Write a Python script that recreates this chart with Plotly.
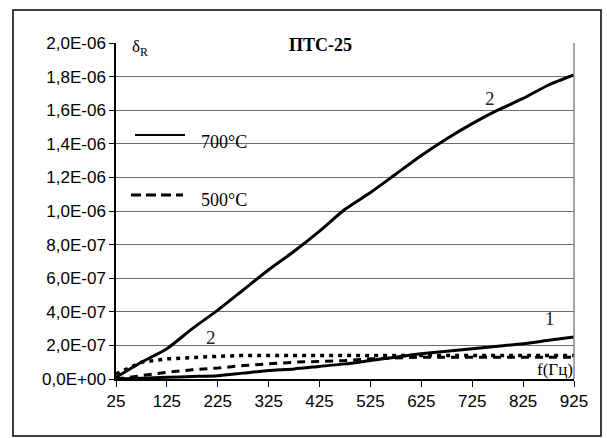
import plotly.graph_objects as go

freq = [25, 75, 125, 175, 225, 275, 325, 375, 425, 475, 525, 575, 625, 675, 725, 775, 825, 875, 925]

# 700°C, curve 2 (upper solid)
s700_2 = [0.01, 0.10, 0.18, 0.30, 0.41, 0.53, 0.65, 0.76, 0.88, 1.01, 1.11, 1.22, 1.33, 1.43, 1.52, 1.60, 1.67, 1.75, 1.81]
# 700°C, curve 1 (lower solid)
s700_1 = [0.00, 0.005, 0.01, 0.015, 0.02, 0.035, 0.05, 0.06, 0.075, 0.09, 0.11, 0.13, 0.15, 0.165, 0.18, 0.195, 0.21, 0.23, 0.25]
# 500°C, curve 2 (upper dashed)
s500_2 = [0.03, 0.10, 0.12, 0.13, 0.135, 0.14, 0.14, 0.14, 0.14, 0.14, 0.14, 0.14, 0.14, 0.14, 0.14, 0.14, 0.14, 0.14, 0.14]
# 500°C, curve 1 (lower dashed)
s500_1 = [0.00, 0.02, 0.04, 0.055, 0.065, 0.08, 0.09, 0.10, 0.105, 0.11, 0.12, 0.125, 0.13, 0.13, 0.13, 0.13, 0.13, 0.13, 0.13]

scale = 1e-6
x_ticks = [25, 125, 225, 325, 425, 525, 625, 725, 825, 925]
y_ticks = [0.0, 0.2, 0.4, 0.6, 0.8, 1.0, 1.2, 1.4, 1.6, 1.8, 2.0]
y_tick_text = ["0,0E+00", "2,0E-07", "4,0E-07", "6,0E-07", "8,0E-07", "1,0E-06",
               "1,2E-06", "1,4E-06", "1,6E-06", "1,8E-06", "2,0E-06"]

# curve number labels: (freq, value, text)
label_x = [760, 878, 212, 155]
label_y = [1.67, 0.36, 0.245, -0.08]
label_t = ["2", "1", "2", "1"]

title_text = "ПТС-25"
y_title = "δ<sub>R</sub>"
x_title = "f(Гц)"
legend_names = ["700°C", "500°C"]

serif = "Liberation Serif, Times New Roman, serif"
sans = "Liberation Sans, Arial, sans-serif"

fig = go.Figure()
fig.add_trace(go.Scatter(x=freq, y=[v * scale for v in s500_2], mode="lines",
                         line=dict(color="black", width=3.5, dash="4px,5px"), showlegend=False))
fig.add_trace(go.Scatter(x=freq, y=[v * scale for v in s500_1], mode="lines",
                         line=dict(color="black", width=3, dash="8px,6px"), showlegend=False))
fig.add_trace(go.Scatter(x=freq, y=[v * scale for v in s700_2], mode="lines",
                         line=dict(color="black", width=3, shape="spline", smoothing=0.6), showlegend=False))
fig.add_trace(go.Scatter(x=freq, y=[v * scale for v in s700_1], mode="lines",
                         line=dict(color="black", width=3, shape="spline", smoothing=0.6), showlegend=False))

W, H = 607, 438
L, R, T, B = 116, 574, 43, 379
pw, ph = R - L, B - T


def px(xp):
    return (xp - L) / pw


def py(yp):
    return (B - yp) / ph


shapes = [
    # outer frame
    dict(type="rect", xref="paper", yref="paper", x0=px(13), x1=px(601), y0=py(436), y1=py(10),
         line=dict(color="black", width=1.5)),
    # right plot border
    dict(type="line", xref="paper", yref="paper", x0=1, x1=1, y0=0, y1=1,
         line=dict(color="#888888", width=1.5)),
    # legend samples
    dict(type="line", xref="paper", yref="paper", x0=px(135), x1=px(185), y0=py(135), y1=py(135),
         line=dict(color="black", width=2)),
    dict(type="line", xref="paper", yref="paper", x0=px(131), x1=px(183), y0=py(195), y1=py(195),
         line=dict(color="black", width=3, dash="10px,5px")),
]

annotations = [
    dict(text="<b>" + title_text + "</b>", xref="paper", yref="paper", x=px(320), y=py(33),
         showarrow=False, font=dict(family=serif, size=18, color="black")),
    dict(text=y_title, xref="paper", yref="paper", x=px(130), y=py(35),
         showarrow=False, font=dict(family=serif, size=17, color="black")),
    dict(text=x_title, xref="paper", yref="paper", x=1.0, y=py(380), xanchor="right", yanchor="bottom",
         borderpad=0, showarrow=False, font=dict(family=serif, size=17, color="black")),
    dict(text=legend_names[0], xref="paper", yref="paper", x=px(199), y=py(130), xanchor="left",
         showarrow=False, font=dict(family=serif, size=18, color="black")),
    dict(text=legend_names[1], xref="paper", yref="paper", x=px(199), y=py(200), xanchor="left",
         showarrow=False, font=dict(family=serif, size=18, color="black")),
]
for lx, ly, lt in zip(label_x, label_y, label_t):
    annotations.append(dict(text=lt, x=lx, y=ly * scale, xref="x", yref="y", showarrow=False,
                            font=dict(family=serif, size=19, color="#222222")))

fig.update_layout(
    width=W, height=H,
    margin=dict(l=L, r=W - R, t=T, b=H - B, pad=0),
    paper_bgcolor="white", plot_bgcolor="white",
    shapes=shapes, annotations=annotations,
    showlegend=False,
)
fig.update_xaxes(range=[25, 925], tickvals=x_ticks, ticktext=[str(v) for v in x_ticks],
                 showgrid=False, zeroline=False, showline=True, linecolor="black", linewidth=1.5,
                 ticks="outside", ticklen=6, tickcolor="black",
                 tickfont=dict(family=sans, size=17, color="black"))
fig.update_yaxes(range=[0, 2.0 * scale], tickvals=[v * scale for v in y_ticks], ticktext=y_tick_text,
                 showgrid=True, gridcolor="#6e6e6e", gridwidth=1.2, zeroline=False,
                 showline=True, linecolor="black", linewidth=1.5,
                 ticks="outside", ticklen=5, tickcolor="black",
                 tickfont=dict(family=sans, size=17, color="black"))

fig.write_html("out.html", config={"displayModeBar": False},
               post_script="document.body.style.margin='0';document.body.style.overflow='hidden';")
